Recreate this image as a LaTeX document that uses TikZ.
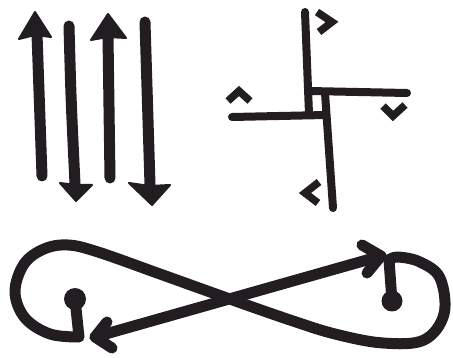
\documentclass[tikz,border=0pt]{standalone}
\definecolor{ink}{RGB}{33,29,33}
\begin{document}
\begin{tikzpicture}[x=1pt,y=-1pt,
  shaft/.style={draw=ink,line width=11pt,line cap=round,line join=round},
  head/.style={fill=ink,draw=ink,line width=2pt,line join=round},
  bar/.style={draw=ink,line width=8pt,line cap=round},
  chev/.style={draw=ink,line width=7.5pt,line cap=butt,line join=miter},
  loop/.style={draw=ink,line width=11pt,line cap=round,line join=round}]
\useasboundingbox (0,0) rectangle (453,358);
% vertical arrows
\draw[shaft] (42,176) -- (37,34);
\filldraw[head] (35,12) -- (19,39) -- (35,35) -- (51,37) -- cycle;
\draw[shaft] (69,26) .. controls (71,100) .. (75,184);
\filldraw[head] (60,183) -- (76,185) -- (92,185) -- (76,201) -- cycle;
\draw[shaft] (110,178) -- (108,36);
\filldraw[head] (108,14) -- (91,40) -- (108,37) -- (126,38) -- cycle;
\draw[shaft] (145,22) -- (150,185);
\filldraw[head] (129,183) -- (150,186) -- (170,185) -- (152,205) -- cycle;
% cross figure
\draw[bar] (305,12) -- (309,114);
\draw[bar] (309,91) -- (407,93);
\draw[bar] (325,93) -- (333,208);
\draw[bar] (232,117) -- (326,115);
\draw[chev] (317,12) -- (332,22) -- (319,32);
\draw[chev] (228,101) -- (239,91) -- (250,101);
\draw[chev] (383,106) -- (393,116) -- (405,105);
\draw[chev] (319,182) -- (305,193) -- (318,203);
% figure eight
\fill[ink] (75,299) circle (11);
\fill[ink] (392,301) circle (10.5);
\draw[loop] (75,299) -- (79,337)
  plot[smooth,tension=0.6] coordinates {(79,337) (50,334) (25,318) (15,292) (24,264) (44,249) (68,245) (98,252) (160,274) (227,298) (290,320) (335,334) (383,343) (424,340) (444,314) (440,278) (420,262) (398,257) (389,260)}
  -- (392,301);
\draw[loop] (95,337) -- (381,256);
\draw[loop] (362,245) -- (381,256) -- (367,273);
\draw[loop] (107,322) -- (95,337) -- (112,348);
\end{tikzpicture}
\end{document}
